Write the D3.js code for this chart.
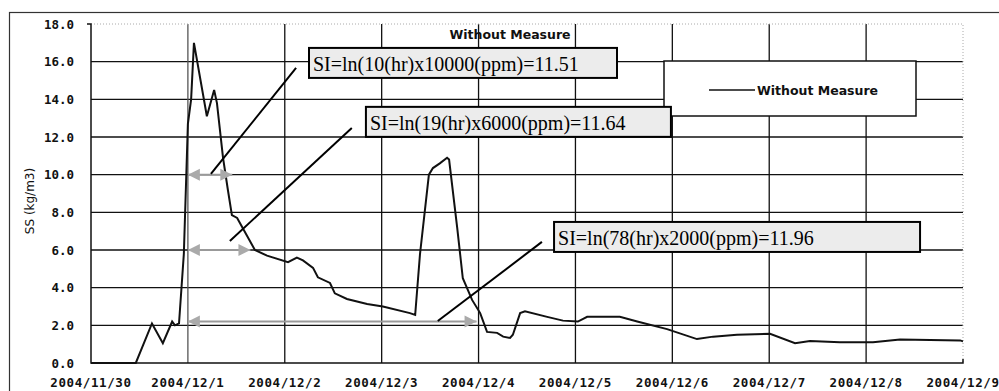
<!DOCTYPE html>
<html>
<head>
<meta charset="utf-8">
<script src="https://cdn.jsdelivr.net/npm/d3@7"></script>
<style>
  body { margin: 0; background: #fff; }
  svg { display: block; }
  .tick-lbl { font-family: "DejaVu Sans Mono", monospace; font-weight: bold; font-size: 12.5px; fill: #111; }
  .sans { font-family: "DejaVu Sans", sans-serif; fill: #111; }
  .si { font-family: "Liberation Serif", "Times New Roman", serif; font-size: 20px; fill: #000; }
</style>
</head>
<body>
<svg id="chart" width="999" height="391"></svg>
<script>
// hours after 2004/11/30 00:00 and measured SS (kg/m3)
var hours = [0, 11.1, 15.1, 17.8, 20.1, 20.8, 21.8, 23.0, 24.0, 24.8, 25.5, 28.7, 30.5, 31.2,
  32.7, 33.9, 34.9, 36.2, 40.6, 43.6, 48.8, 51.0, 52.5, 55.0, 56.2, 59.2, 60.4, 63.4, 68.4,
  72.3, 79.0, 80.3, 81.5, 83.7, 84.7, 86.4, 88.2, 88.7, 90.7, 92.1, 94.4, 96.4, 98.1, 100.6,
  102.1, 103.8, 104.5, 106.3, 107.5, 113.0, 116.9, 120.6, 122.9, 131.0, 135.3, 142.7, 150.1,
  154.1, 160.0, 168.2, 174.4, 178.1, 185.5, 193.7, 200.4, 215.3, 216];
var ssValues = [0, 0, 2.1, 1.05, 2.2, 2.0, 2.1, 5.8, 12.7, 14.0, 17.0, 13.1, 14.5, 13.8,
  10.9, 9.2, 7.85, 7.7, 6.0, 5.7, 5.35, 5.6, 5.45, 5.05, 4.55, 4.25, 3.7, 3.4, 3.13,
  3.0, 2.65, 2.55, 5.8, 10.0, 10.35, 10.6, 10.9, 10.8, 7.2, 4.5, 3.35, 2.65, 1.65, 1.6,
  1.4, 1.33, 1.5, 2.65, 2.75, 2.45, 2.25, 2.2, 2.45, 2.45, 2.2, 1.8, 1.27,
  1.4, 1.5, 1.55, 1.05, 1.17, 1.1, 1.1, 1.25, 1.2, 1.15];

var yTicks = [0, 2, 4, 6, 8, 10, 12, 14, 16, 18];
var seriesName = "Without Measure";
var yTitle = "SS (kg/m3)";

// SI annotations: label, arrow level, arrow span (hours), box corner, leader line
var siLabels = ["SI=ln(10(hr)x10000(ppm)=11.51", "SI=ln(19(hr)x6000(ppm)=11.64", "SI=ln(78(hr)x2000(ppm)=11.96"];
var arrowLevels = [10, 6, 2.2];
var arrowFrom = [24, 24, 24];
var arrowTo = [35, 39.5, 95.5];
var boxHour = [54.0, 68.1, 114.7];
var boxValue = [16.73, 13.6, 7.49];
var boxWidths = [308, 305, 366];
var leaderFrom = [[29.7, 10.04], [34.4, 6.48], [85.9, 2.23]];
var leaderTo = [[50.8, 15.67], [64.6, 12.48], [111.7, 6.43]];

var svg = d3.select("#chart");
var start = new Date(2004, 10, 30);
var toDate = function(h) { return new Date(start.getTime() + h * 3600 * 1000); };

var margins = { left: 91, right: 36, top: 24, bottom: 28 };
var width = 999 - margins.left - margins.right,
    height = 391 - margins.top - margins.bottom;

var x = d3.scaleTime().domain([start, toDate(216)]).range([margins.left, margins.left + width]);
var y = d3.scaleLinear().domain([0, 18]).range([margins.top + height, margins.top]);

// outer frame
svg.append("rect")
  .attr("x", 9.5).attr("y", 12.5).attr("width", 1010).attr("height", 420)
  .attr("fill", "none").attr("stroke", "#333").attr("stroke-width", 1.2);

var days = x.ticks(d3.timeDay.every(1));

// horizontal grid
svg.append("g").selectAll("line")
  .data(yTicks.filter(function(d) { return d > 0 && d < 18; }))
  .enter().append("line")
  .attr("x1", margins.left).attr("x2", margins.left + width)
  .attr("y1", function(d) { return y(d); }).attr("y2", function(d) { return y(d); })
  .attr("stroke", "#111").attr("stroke-width", 1.3);

// vertical grid
svg.append("g").selectAll("line")
  .data(days.slice(1, days.length - 1))
  .enter().append("line")
  .attr("x1", function(d) { return x(d); }).attr("x2", function(d) { return x(d); })
  .attr("y1", y(18)).attr("y2", y(0))
  .attr("stroke", function(d, i) { return i == 0 ? "#555" : "#111"; })
  .attr("stroke-width", 1.3);

// top & right plot border (dotted)
svg.append("path")
  .attr("d", "M" + x(days[0]) + "," + y(18) + "H" + x(days[days.length - 1]) + "V" + y(0))
  .attr("fill", "none").attr("stroke", "#aaa").attr("stroke-width", 1)
  .attr("stroke-dasharray", "1,2");

// axes lines
svg.append("path")
  .attr("d", "M" + (margins.left - 4) + "," + y(18) + "H" + margins.left + "V" + y(0) + "H" + x(days[days.length - 1]) + "v-4")
  .attr("fill", "none").attr("stroke", "#111").attr("stroke-width", 1.5);

// y tick labels
svg.append("g").selectAll("text")
  .data(yTicks).enter().append("text")
  .attr("class", "tick-lbl")
  .attr("x", 74).attr("y", function(d) { return y(d) + 4.5; })
  .attr("text-anchor", "end")
  .text(function(d) { return d.toFixed(1); });

// x tick labels
var fmt = d3.timeFormat("%Y/%-m/%-d");
svg.append("g").selectAll("text")
  .data(days).enter().append("text")
  .attr("class", "tick-lbl")
  .attr("x", function(d) { return x(d); }).attr("y", 387)
  .attr("text-anchor", "middle")
  .style("letter-spacing", "0.6px")
  .text(function(d) { return fmt(d); });

// y title
svg.append("text")
  .attr("class", "sans")
  .attr("transform", "translate(34,201) rotate(-90)")
  .attr("text-anchor", "middle")
  .style("font-size", "12px")
  .text(yTitle);

// chart title
svg.append("text")
  .attr("class", "sans")
  .attr("x", 510).attr("y", 39)
  .attr("text-anchor", "middle")
  .style("font-size", "12.5px").style("font-weight", "bold")
  .text(seriesName);

// legend
var legend = svg.append("g").attr("transform", "translate(664,61)");
legend.append("rect").attr("width", 252).attr("height", 55)
  .attr("fill", "#fff").attr("stroke", "#111").attr("stroke-width", 1.5);
legend.append("line").attr("x1", 45).attr("x2", 91).attr("y1", 29).attr("y2", 29)
  .attr("stroke", "#111").attr("stroke-width", 1.6);
legend.append("text").attr("class", "sans")
  .attr("x", 93).attr("y", 33.5)
  .style("font-size", "12.5px").style("font-weight", "bold")
  .text(seriesName);

// data line
var data = hours.map(function(h, i) { return { t: toDate(h), v: ssValues[i] }; });
var line = d3.line()
  .x(function(d) { return x(d.t); })
  .y(function(d) { return y(d.v); });
svg.append("path")
  .datum(data)
  .attr("fill", "none")
  .attr("stroke", "#111")
  .attr("stroke-width", 2)
  .attr("d", line);

// arrows
var arrowG = svg.append("g");
arrowLevels.forEach(function(v, i) {
  var x0 = x(toDate(arrowFrom[i])), x1 = x(toDate(arrowTo[i])), yy = y(v);
  arrowG.append("line")
    .attr("x1", x0).attr("x2", x1).attr("y1", yy).attr("y2", yy)
    .attr("stroke", "#999").attr("stroke-width", 2);
  arrowG.append("path")
    .attr("d", "M" + x0 + "," + yy + "l12,-6v12z")
    .attr("fill", "#aaa");
  arrowG.append("path")
    .attr("d", "M" + x1 + "," + yy + "l-12,-6v12z")
    .attr("fill", "#aaa");
});

// leader lines
leaderFrom.forEach(function(p, i) {
  svg.append("line")
    .attr("x1", x(toDate(p[0]))).attr("y1", y(p[1]))
    .attr("x2", x(toDate(leaderTo[i][0]))).attr("y2", y(leaderTo[i][1]))
    .attr("stroke", "#000").attr("stroke-width", 2);
});

// SI boxes
siLabels.forEach(function(txt, i) {
  var g = svg.append("g")
    .attr("transform", "translate(" + x(toDate(boxHour[i])) + "," + y(boxValue[i]) + ")");
  g.append("rect").attr("width", boxWidths[i]).attr("height", 30)
    .attr("fill", "#ececec").attr("stroke", "#000").attr("stroke-width", 2);
  g.append("text").attr("class", "si")
    .attr("x", 4).attr("y", 23)
    .text(txt);
});
</script>
</body>
</html>
